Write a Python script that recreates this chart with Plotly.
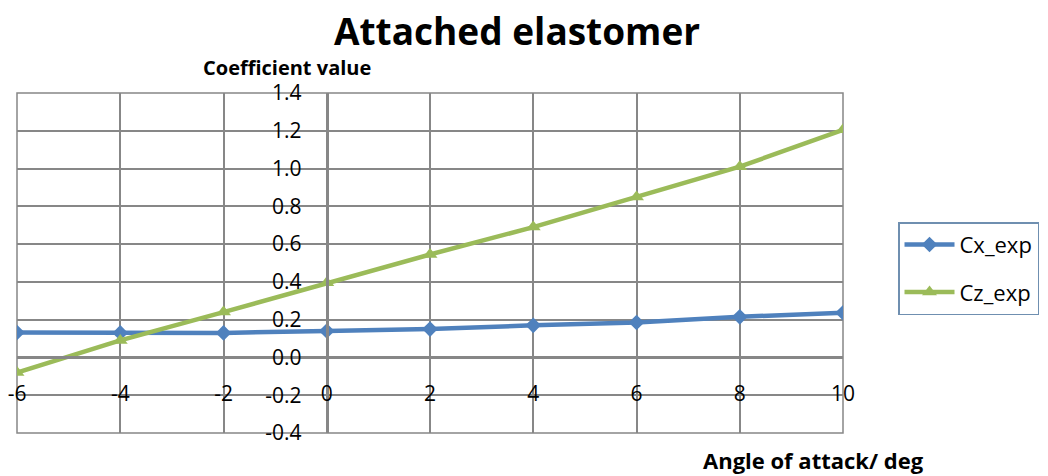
import plotly.graph_objects as go

angle = [-6, -4, -2, 0, 2, 4, 6, 8, 10]
cx_exp = [0.132, 0.13, 0.13, 0.14, 0.15, 0.17, 0.185, 0.215, 0.237]
cz_exp = [-0.08, 0.09, 0.24, 0.395, 0.545, 0.69, 0.85, 1.01, 1.205]

x_ticks = [-6, -4, -2, 0, 2, 4, 6, 8, 10]
y_ticks = [-0.4, -0.2, 0.0, 0.2, 0.4, 0.6, 0.8, 1.0, 1.2, 1.4]

FONT = "Open Sans"
BLUE = "#4F81BD"
GREEN = "#9BBB59"
GRID = "#878787"

W, H = 1040, 468  # page body has an 8px margin

fig = go.Figure()
fig.add_trace(go.Scatter(
    x=angle, y=cx_exp, name="Cx_exp", mode="lines+markers",
    line=dict(color=BLUE, width=4.5),
    marker=dict(symbol="diamond", size=12, color=BLUE),
    legendgroup="a",
))
fig.add_trace(go.Scatter(
    x=angle, y=cz_exp, name="Cz_exp", mode="lines+markers",
    line=dict(color=GREEN, width=4.5),
    marker=dict(symbol="triangle-up", size=13, color=GREEN),
    legendgroup="b",
))

xmin, xmax = -6, 10
ymin, ymax = -0.4, 1.4

fig.update_layout(
    width=W, height=H,
    margin=dict(l=9, r=205, t=85, b=43),
    paper_bgcolor="white", plot_bgcolor="white",
    font=dict(family=FONT, color="#000000", size=16),
    xaxis=dict(
        range=[xmin, xmax], tickvals=x_ticks, ticktext=[str(v) for v in x_ticks],
        showgrid=True, gridcolor=GRID, gridwidth=1.5,
        zeroline=False, showline=True, linecolor=GRID, linewidth=3,
        anchor="free", position=(0 - ymin) / (ymax - ymin), automargin=False,
        ticks="", ticklabelstandoff=16, tickfont=dict(size=21),
        ticklabeloverflow="allow",
    ),
    yaxis=dict(
        range=[ymin, ymax], tickvals=y_ticks,
        ticktext=[f"{v:.1f}" for v in y_ticks],
        showgrid=True, gridcolor=GRID, gridwidth=1.5,
        zeroline=False, showline=True, linecolor=GRID, linewidth=3,
        anchor="free", position=(0 - xmin) / (xmax - xmin), automargin=False,
        ticks="", ticklabelstandoff=20, tickfont=dict(size=21),
        ticklabeloverflow="allow",
    ),
    legend=dict(
        x=1.0666, xanchor="left", y=0.62, yanchor="top",
        bordercolor="#6f8fb0", borderwidth=1.5, bgcolor="white",
        font=dict(size=22), tracegroupgap=16, traceorder="grouped",
        itemwidth=50,
    ),
    showlegend=True,
)

# plot-area frame (outer gridlines)
fig.add_shape(type="rect", xref="x domain", yref="y domain", x0=0, x1=1, y0=0, y1=1,
              line=dict(color=GRID, width=1.5), layer="below")

# chart title
fig.add_annotation(text="<b>Attached elastomer</b>", xref="paper", yref="paper",
                   x=(509 - 9) / 826, y=(425 - 23) / 340, showarrow=False,
                   font=dict(size=37, family=FONT), xanchor="center", yanchor="middle")
fig.add_annotation(text="<b>Coefficient value</b>", xref="paper", yref="paper",
                   x=(279 - 9) / 826, y=(425 - 59) / 340, showarrow=False,
                   font=dict(size=20, family=FONT), xanchor="center", yanchor="middle")
fig.add_annotation(text="<b>Angle of attack/ deg</b>", xref="paper", yref="paper",
                   x=(805 - 9) / 826, y=(425 - 452) / 340, showarrow=False,
                   font=dict(size=22, family=FONT), xanchor="center", yanchor="middle")

fig.write_html("out.html")
